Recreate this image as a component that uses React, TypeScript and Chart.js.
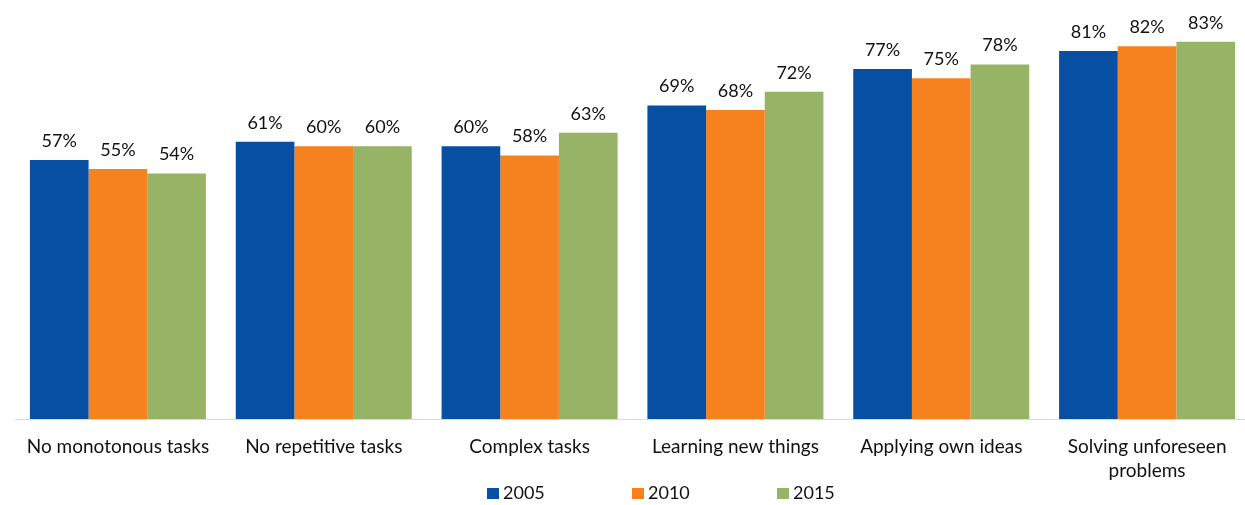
import React, { useEffect, useRef } from "react";
import { Chart, registerables } from "chart.js";

Chart.register(...registerables);

const categories: (string | string[])[] = [
  "No monotonous tasks",
  "No repetitive tasks",
  "Complex tasks",
  "Learning new things",
  "Applying own ideas",
  ["Solving unforeseen", "problems"],
];
const seriesNames = ["2005", "2010", "2015"];
const values2005 = [57, 61, 60, 69, 77, 81];
const values2010 = [55, 60, 58, 68, 75, 82];
const values2015 = [54, 60, 63, 72, 78, 83];
const seriesColors = ["#064FA2", "#F5821F", "#97B366"];

const FONT = "Lato, 'Open Sans', sans-serif";
const TEXT = "#111111";

const labelPlugin = {
  id: "barLabels",
  afterDatasetsDraw(chart: any) {
    const ctx = chart.ctx;
    ctx.save();
    ctx.font = `18px ${FONT}`;
    ctx.fillStyle = TEXT;
    ctx.textAlign = "center";
    ctx.textBaseline = "middle";
    chart.data.datasets.forEach((ds: any, i: number) => {
      const meta = chart.getDatasetMeta(i);
      meta.data.forEach((bar: any, j: number) => {
        ctx.fillText(`${ds.data[j]}%`, bar.x, bar.y - 19);
      });
    });
    ctx.restore();
  },
};

const legendPlugin = {
  id: "customLegend",
  afterDraw(chart: any) {
    const ctx = chart.ctx;
    ctx.save();
    ctx.font = `18px ${FONT}`;
    ctx.textBaseline = "middle";
    ctx.textAlign = "left";
    const startX = 487;
    const step = 145;
    seriesNames.forEach((name, i) => {
      const x = startX + i * step;
      ctx.fillStyle = seriesColors[i];
      ctx.fillRect(x, 488, 12, 11);
      ctx.fillStyle = TEXT;
      ctx.fillText(name, x + 16, 493.5);
    });
    ctx.restore();
  },
};

export default function App() {
  const ref = useRef<HTMLCanvasElement | null>(null);

  useEffect(() => {
    if (!ref.current) return;
    const chart = new Chart(ref.current, {
      type: "bar",
      data: {
        labels: categories,
        datasets: [values2005, values2010, values2015].map((d, i) => ({
          label: seriesNames[i],
          data: d,
          backgroundColor: seriesColors[i],
          borderWidth: 0,
          categoryPercentage: 0.855,
          barPercentage: 1,
        })),
      },
      options: {
        responsive: false,
        animation: false,
        layout: { padding: { left: 15, right: 1, top: 10, bottom: 0 } },
        plugins: {
          legend: { display: false },
          tooltip: { enabled: false },
        },
        scales: {
          x: {
            grid: { display: false },
            border: { display: true, color: "#D9D9D9", width: 1 },
            ticks: {
              color: TEXT,
              font: { family: FONT, size: 19, lineHeight: 1.263 },
              padding: 8,
              maxRotation: 0,
              autoSkip: false,
            },
            afterFit(scale: any) {
              scale.height = 86;
            },
          },
          y: {
            display: false,
            min: 0,
            max: 90,
          },
        },
      },
      plugins: [labelPlugin, legendPlugin],
    });
    return () => chart.destroy();
  }, []);

  return (
    <div
      style={{
        position: "fixed",
        left: 0,
        top: 0,
        width: 1245,
        height: 505,
        overflow: "hidden",
        background: "#fff",
      }}
    >
      <canvas ref={ref} width={1251} height={505} style={{ display: "block" }} />
    </div>
  );
}
